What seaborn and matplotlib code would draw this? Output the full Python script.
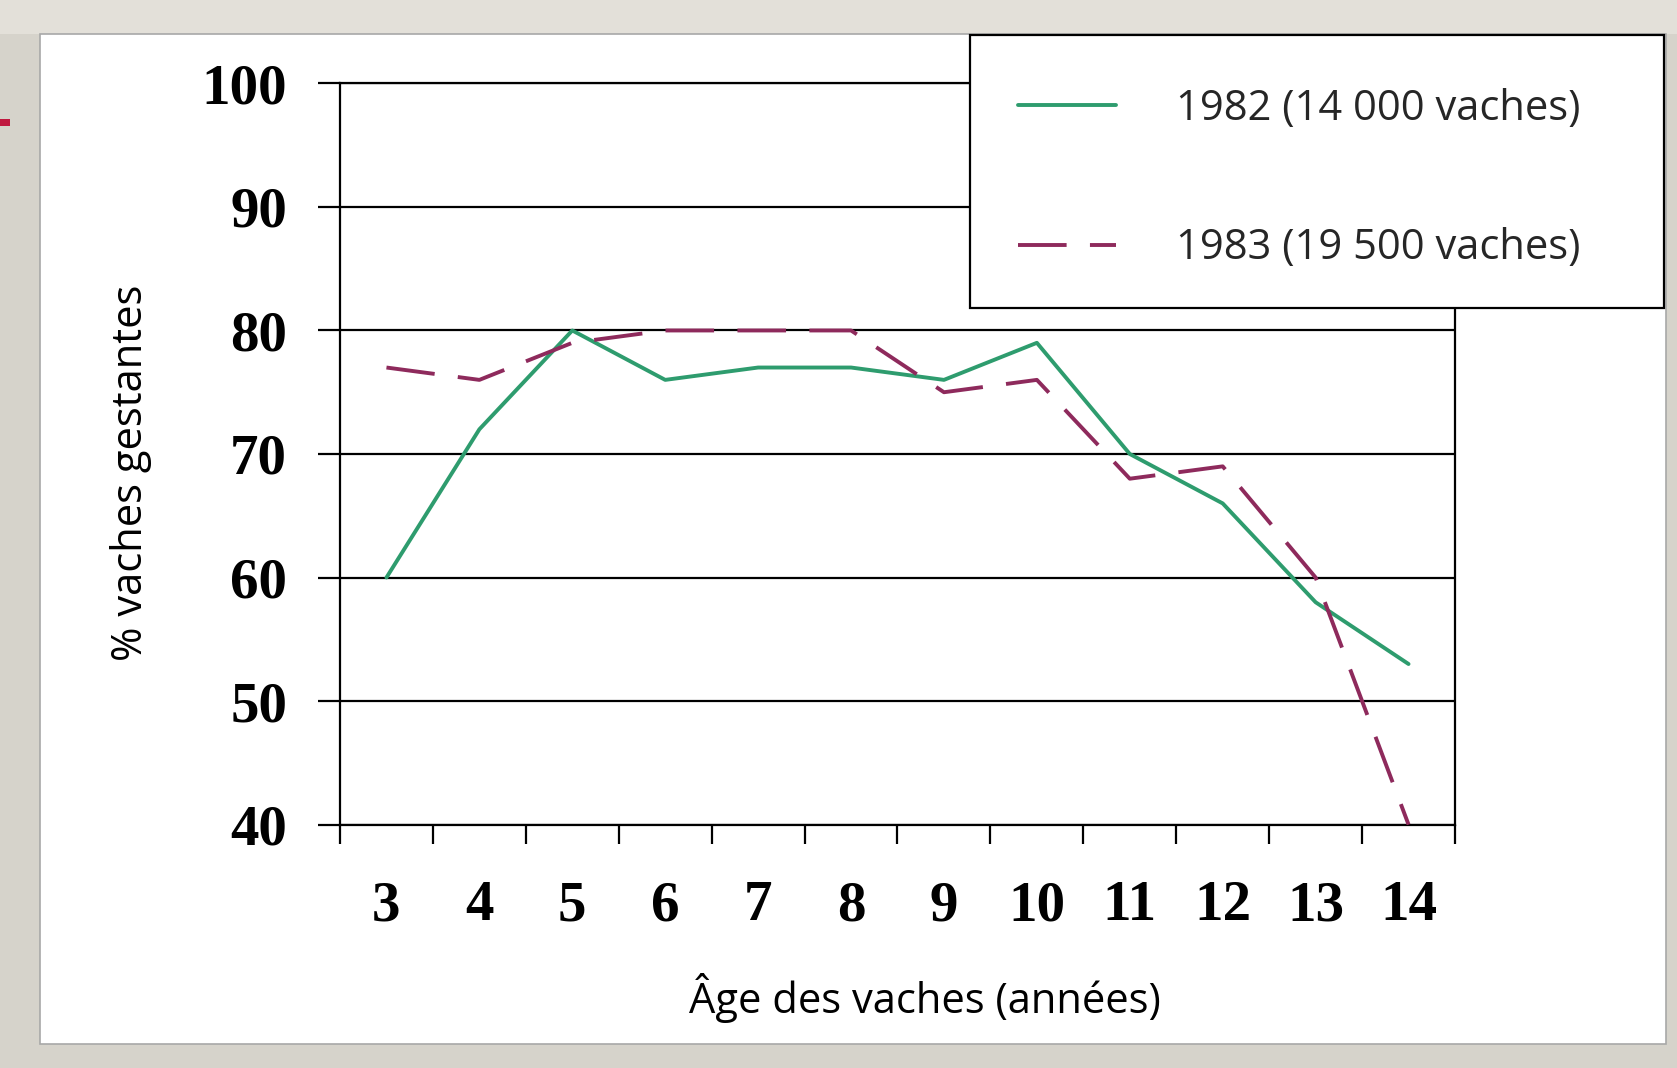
import matplotlib
matplotlib.use("Agg")
import matplotlib.pyplot as plt
from matplotlib.patches import Rectangle
from matplotlib.ticker import FixedLocator
import seaborn as sns
import pandas as pd

# ---- data ----
ages = [3, 4, 5, 6, 7, 8, 9, 10, 11, 12, 13, 14]
pct_1982 = [60, 72, 80, 76, 77, 77, 76, 79, 70, 66, 58, 53]
pct_1983 = [77, 76, 79, 80, 80, 80, 75, 76, 68, 69, 60, 40]
series_labels = ["1982 (14 000 vaches)", "1983 (19 500 vaches)"]
y_ticks = [40, 50, 60, 70, 80, 90, 100]
x_label = "Âge des vaches (années)"
y_label = "% vaches gestantes"

df = pd.DataFrame({
    "age": ages * 2,
    "pct": pct_1982 + pct_1983,
    "serie": [series_labels[0]] * len(ages) + [series_labels[1]] * len(ages),
})

green = "#2E9C6E"
maroon = "#8E2A5C"

sns.set_theme(style="white")
plt.rcParams["font.family"] = ["Open Sans", "DejaVu Sans"]

W, H = 1677, 1068
fig = plt.figure(figsize=(W / 100, H / 100), dpi=100)
fig.patch.set_facecolor("#D6D3CB")

def fr(x0, y0, x1, y1):
    return (x0 / W, 1 - y1 / H, (x1 - x0) / W, (y1 - y0) / H)

# slide decorations
x, y, w, h = fr(0, 0, W, 34)
fig.patches.append(Rectangle((x, y), w, h, transform=fig.transFigure,
                             facecolor="#E3E0D9", edgecolor="none", zorder=-3))
x, y, w, h = fr(40, 34, 1666, 1044)
fig.patches.append(Rectangle((x, y), w, h, transform=fig.transFigure,
                             facecolor="white", edgecolor="#A8A8A8", lw=1.2, zorder=-2))
x, y, w, h = fr(0, 119, 10, 126)
fig.patches.append(Rectangle((x, y), w, h, transform=fig.transFigure,
                             facecolor="#C0183F", edgecolor="none", zorder=-1))

ax = fig.add_axes(fr(340, 83.4, 1455, 824.6))
ax.set_facecolor("white")

sns.lineplot(data=df, x="age", y="pct", hue="serie", style="serie",
             palette={series_labels[0]: green, series_labels[1]: maroon},
             dashes={series_labels[0]: "", series_labels[1]: (12.5, 6)},
             linewidth=2.8, ax=ax, legend=False, zorder=3)

ax.set_xlim(ages[0] - 0.5, ages[-1] + 0.5)
ax.set_ylim(y_ticks[0], y_ticks[-1])
ax.set_yticks(y_ticks)
ax.set_xticks(ages)
ax.xaxis.set_minor_locator(FixedLocator([a - 0.5 for a in ages] + [ages[-1] + 0.5]))
ax.grid(axis="y", color="black", lw=1.6, zorder=1)
ax.set_axisbelow(True)
for s in ax.spines.values():
    s.set_visible(True)
    s.set_color("black")
    s.set_linewidth(1.6)

tickfont = dict(family="Liberation Serif", weight="bold", size=41)
ax.set_xticklabels([str(a) for a in ages], fontdict=tickfont)
ax.set_yticklabels([str(v) for v in y_ticks], fontdict=tickfont)
ax.tick_params(axis="x", which="major", length=0, pad=40, colors="black")
ax.tick_params(axis="x", which="minor", bottom=True, length=14, width=1.6,
               direction="out", color="black")
ax.tick_params(axis="y", which="major", left=True, length=16, width=1.6,
               direction="out", pad=22, colors="black")

ax.set_xlabel(x_label, fontsize=30, color="black", va="center")
ax.xaxis.set_label_coords(0.525, -0.234)
ax.set_ylabel(y_label, fontsize=30, color="black", va="center")
ax.yaxis.set_label_coords(-0.187, 0.474)

# legend box
x, y, w, h = fr(970, 35, 1664, 308)
fig.patches.append(Rectangle((x, y), w, h, transform=fig.transFigure,
                             facecolor="white", edgecolor="black", lw=1.6, zorder=4))
handles = ax.get_lines()[:2]
fig.legend(handles, series_labels, loc="upper left",
           bbox_to_anchor=(1018 / W, 1 - 88 / H), frameon=False,
           fontsize=30, borderpad=0, borderaxespad=0,
           handlelength=2.35, handletextpad=1.44, labelspacing=2.33)

fig.savefig("out.png", dpi=100, facecolor=fig.get_facecolor())
